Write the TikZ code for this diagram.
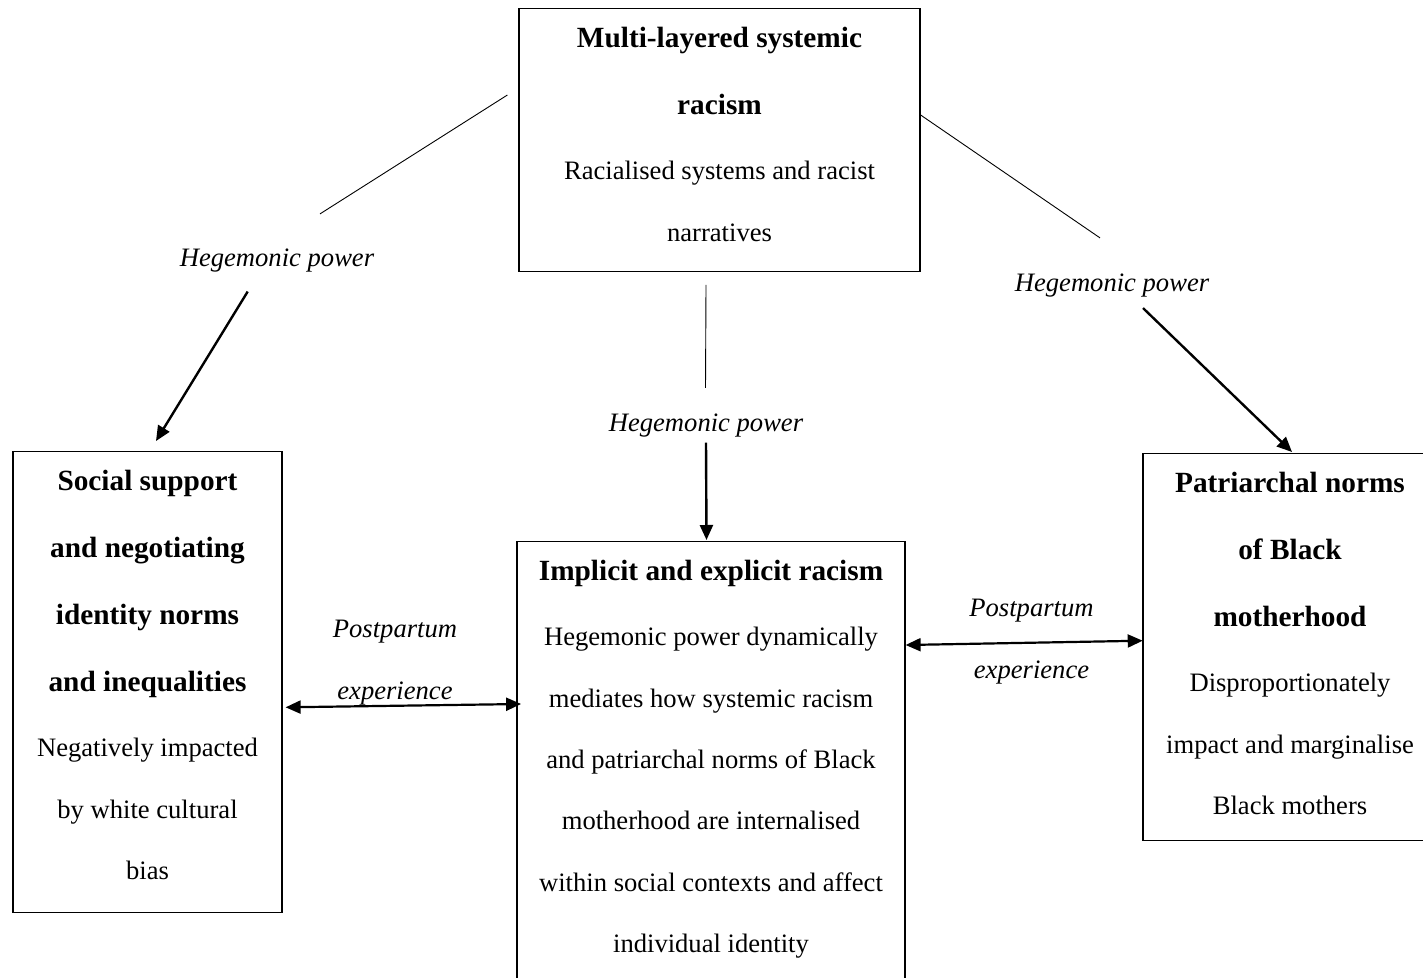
\documentclass[tikz,border=0pt]{standalone}
\usepackage{fontspec}
\setmainfont{Liberation Serif}
\usetikzlibrary{arrows.meta}

\newcommand{\headfont}{\fontsize{29.3pt}{67pt}\selectfont\bfseries}
\newcommand{\bodyfont}{\fontsize{26.6pt}{61.3pt}\selectfont}
\newcommand{\botpad}[1]{\rule[-#1]{0pt}{#1}}

\begin{document}
\begin{tikzpicture}[x=1pt,y=1pt,>={Triangle[length=15pt,width=13pt]},
      panel/.style={draw,line width=1.2pt,text width=#1,align=flush center,inner xsep=0pt,inner ysep=19pt,anchor=north},
      hlabel/.style={font=\bodyfont\itshape,inner sep=0pt},
      plabel/.style={font=\fontsize{26.6pt}{62.8pt}\selectfont\itshape,inner sep=0pt,text width=160pt,align=flush center,anchor=north},
      link/.style={line width=0.9pt},
      flow/.style={->,line width=2.4pt},
      mutual/.style={<->,line width=2.2pt}]
      \useasboundingbox (0,0) rectangle (1423,-977);
      \clip (0,0) rectangle (1423,-977);

      % boxes
      \node[panel=401pt] (sys) at (719.5,-8) {{\headfont Multi-layered systemic\\ racism\par}\vspace{3.7pt}{\bodyfont Racialised systems and racist\\ narratives\botpad{11pt}\par}};
      \node[panel=269pt] (soc) at (147.5,-451) {{\headfont Social support\\ and negotiating\\ identity norms\\ and inequalities\par}\vspace{3.7pt}{\bodyfont Negatively impacted\\ by white cultural\\ bias\botpad{14pt}\par}};
      \node[panel=388pt] (impl) at (711,-541) {{\headfont Implicit and explicit racism\par}\vspace{3.7pt}{\bodyfont Hegemonic power dynamically\\ mediates how systemic racism\\ and patriarchal norms of Black\\ motherhood are internalised\\ within social contexts and affect\\ individual identity\botpad{80pt}\par}};
      \node[panel=294pt] (pat) at (1290,-453) {{\headfont Patriarchal norms\\ of Black\\ motherhood\par}\vspace{3.7pt}{\bodyfont Disproportionately\\ impact and marginalise\\ Black mothers\botpad{7pt}\par}};

      % labels
      \node[hlabel,anchor=base] (hpL) at (277,-266.7) {Hegemonic power};
      \node[hlabel,anchor=base] (hpC) at (706,-431.7) {Hegemonic power};
      \node[hlabel,anchor=base] (hpR) at (1112,-291.7) {Hegemonic power};
      \node[plabel] (ppL) at (395,-619.4) {Postpartum\\ experience};
      \node[plabel] (ppR) at (1031.5,-598.4) {Postpartum\\ experience};

      \path
        ([shift={(-11pt,-87pt)}]sys.north west) edge[link] ([shift={(43pt,35pt)}]hpL.north)
        ([shift={(-13.5pt,-13pt)}]sys.south) edge[link] ([shift={(-0.5pt,26pt)}]hpC.north)
        ([shift={(0pt,-107pt)}]sys.north east) edge[link] ([shift={(-12pt,36pt)}]hpR.north)

        ([shift={(-29.3pt,-19pt)}]hpL.south) edge[flow] ([shift={(8.5pt,10pt)}]soc.north)
        ([yshift=-5pt]hpC.south) edge[flow] ([shift={(-4.5pt,1pt)}]impl.north)
        ([shift={(31pt,-10.5pt)}]hpR.south) edge[flow] ([shift={(2pt,1pt)}]pat.north)

        ([shift={(3pt,-256.3pt)}]soc.north east) edge[mutual] ([shift={(4.7pt,-163pt)}]impl.north west)
        ([shift={(0pt,-104pt)}]impl.north east) edge[mutual] ([shift={(0.3pt,-187.7pt)}]pat.north west);
    \end{tikzpicture}
\end{document}
